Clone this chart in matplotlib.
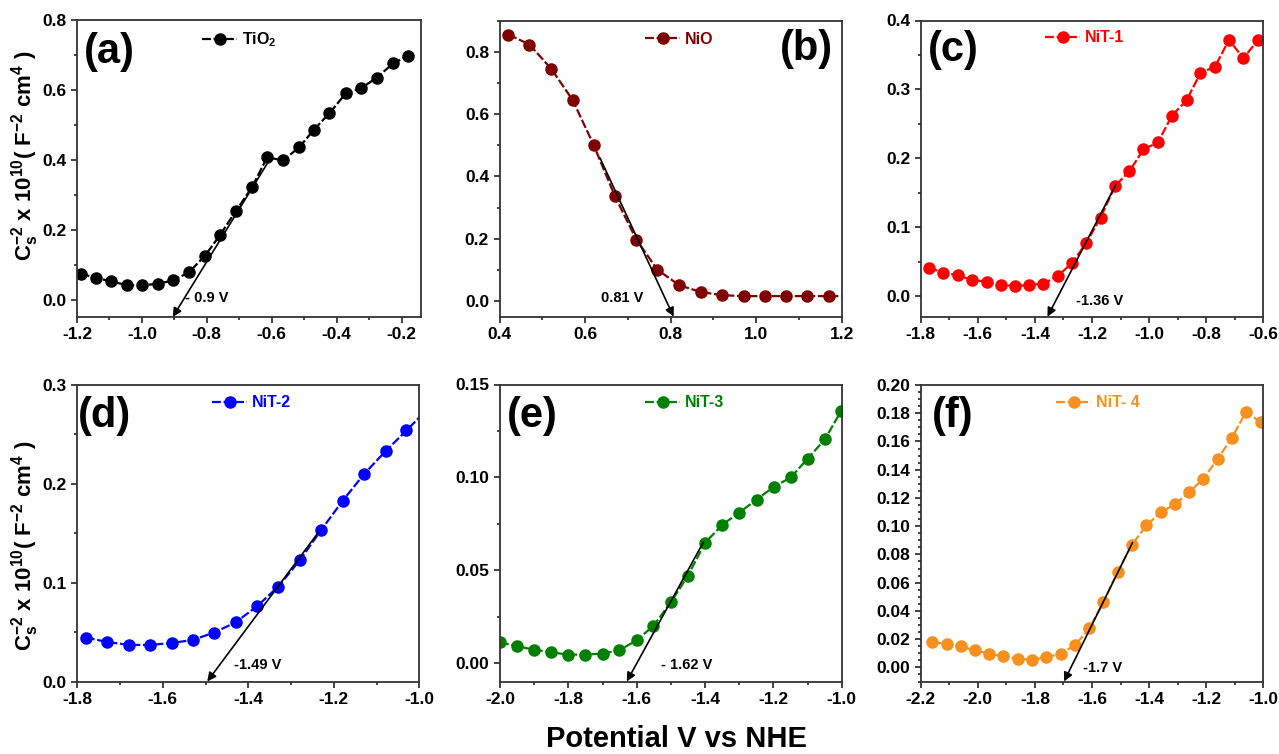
import matplotlib
matplotlib.use("Agg")
import matplotlib.pyplot as plt
from matplotlib.ticker import MultipleLocator, FormatStrFormatter
import numpy as np

plt.rcParams['font.family'] = ['Liberation Sans', 'DejaVu Sans']
plt.rcParams['font.weight'] = 'bold'
plt.rcParams['mathtext.fontset'] = 'custom'
plt.rcParams['mathtext.rm'] = 'Liberation Sans:bold'
plt.rcParams['mathtext.bf'] = 'Liberation Sans:bold'
plt.rcParams['mathtext.it'] = 'Liberation Sans:bold'
plt.rcParams['mathtext.default'] = 'bf'

# ---------------- data ----------------
x_tio2 = [-1.189, -1.142, -1.094, -1.047, -0.999, -0.950, -0.903, -0.855, -0.805, -0.759, -0.710,
          -0.661, -0.614, -0.565, -0.515, -0.470, -0.422, -0.372, -0.326, -0.276, -0.226, -0.179]
y_tio2 = [0.074, 0.062, 0.052, 0.041, 0.041, 0.045, 0.055, 0.078, 0.126, 0.185, 0.254,
          0.321, 0.407, 0.398, 0.436, 0.486, 0.533, 0.590, 0.604, 0.635, 0.676, 0.697]

x_nio = [0.421, 0.470, 0.521, 0.571, 0.620, 0.670, 0.720, 0.769, 0.820, 0.871, 0.920,
         0.971, 1.021, 1.070, 1.120, 1.171, 1.221]
y_nio = [0.855, 0.823, 0.745, 0.645, 0.501, 0.336, 0.197, 0.101, 0.051, 0.029, 0.019,
         0.016, 0.016, 0.016, 0.016, 0.016, 0.016]

x_nit1 = [-1.771, -1.721, -1.670, -1.620, -1.569, -1.520, -1.470, -1.419, -1.370, -1.320, -1.270,
          -1.220, -1.170, -1.119, -1.069, -1.020, -0.969, -0.920, -0.869, -0.820, -0.769, -0.720,
          -0.670, -0.620]
y_nit1 = [0.041, 0.034, 0.030, 0.023, 0.021, 0.016, 0.0145, 0.016, 0.018, 0.029, 0.048,
          0.077, 0.114, 0.160, 0.181, 0.213, 0.223, 0.262, 0.284, 0.324, 0.333, 0.372,
          0.345, 0.371]

x_nit2 = [-1.780, -1.730, -1.679, -1.630, -1.579, -1.530, -1.480, -1.429, -1.380, -1.330, -1.279,
          -1.230, -1.179, -1.129, -1.079, -1.030, -0.980]
y_nit2 = [0.0445, 0.040, 0.037, 0.037, 0.039, 0.042, 0.0495, 0.060, 0.076, 0.096, 0.123,
          0.153, 0.183, 0.210, 0.233, 0.254, 0.276]

x_nit3 = [-2.000, -1.951, -1.900, -1.851, -1.800, -1.751, -1.700, -1.651, -1.600, -1.551, -1.500,
          -1.451, -1.400, -1.349, -1.300, -1.249, -1.198, -1.149, -1.100, -1.049, -1.002]
y_nit3 = [0.0111, 0.0090, 0.0072, 0.0057, 0.0045, 0.0045, 0.0050, 0.0068, 0.0122, 0.0200, 0.0327,
          0.0467, 0.0647, 0.0745, 0.0810, 0.0880, 0.0950, 0.0999, 0.1100, 0.1205, 0.1356]

x_nit4 = [-2.159, -2.109, -2.060, -2.010, -1.960, -1.911, -1.860, -1.810, -1.760, -1.710, -1.660,
          -1.609, -1.560, -1.510, -1.460, -1.410, -1.360, -1.309, -1.260, -1.210, -1.160, -1.110,
          -1.060, -1.009]
y_nit4 = [0.0179, 0.0167, 0.0149, 0.0120, 0.0097, 0.0078, 0.0061, 0.0054, 0.0071, 0.0097, 0.0156,
          0.0278, 0.0462, 0.0679, 0.0868, 0.1005, 0.1097, 0.1156, 0.1241, 0.1335, 0.1476, 0.1627,
          0.1811, 0.1736]

series_labels = [r'TiO$_2$', 'NiO', 'NiT-1', 'NiT-2', 'NiT-3', 'NiT- 4']
panel_tags = ['(a)', '(b)', '(c)', '(d)', '(e)', '(f)']
colors = ['#000000', '#7F0000', '#FF0000', '#0000FF', '#008000', '#F7901E']

# tangent lines: start (x, y) and intercept x, with label text
tan_start_x = [-0.600, 0.635, -1.116, -1.236, -1.405, -1.458]
tan_start_y = [0.410, 0.459, 0.162, 0.151, 0.065, 0.0884]
tan_end_x = [-0.905, 0.807, -1.356, -1.496, -1.629, -1.698]
fb_labels = ['- 0.9 V', '0.81 V', '-1.36 V', '-1.49 V', '- 1.62 V', '-1.7 V']
fb_label_x = [-0.80, 0.686, -1.174, -1.379, -1.454, -1.564]
fb_label_y = [0.005, 0.010, -0.007, 0.017, -0.001, -0.0005]

xlims = [(-1.2, -0.14), (0.4, 1.2), (-1.8, -0.6), (-1.8, -1.0), (-2.0, -1.0), (-2.2, -1.0)]
ylims = [(-0.05, 0.8), (-0.05, 0.9), (-0.03, 0.4), (0.0, 0.3), (-0.01, 0.15), (-0.01, 0.20)]
xmajor = [0.2, 0.2, 0.2, 0.2, 0.2, 0.2]
ymajor = [0.2, 0.2, 0.1, 0.1, 0.05, 0.02]
yminor = [0.1, 0.1, 0.05, 0.05, 0.025, 0.005]
yfmt = ['%.1f', '%.1f', '%.1f', '%.1f', '%.2f', '%.2f']
yticks_first = [0.0, 0.0, 0.0, 0.0, 0.0, 0.0]
yticks_last = [0.8, 0.8, 0.4, 0.3, 0.15, 0.20]

xs = [x_tio2, x_nio, x_nit1, x_nit2, x_nit3, x_nit4]
ys = [y_tio2, y_nio, y_nit1, y_nit2, y_nit3, y_nit4]

# ---------------- layout (pixels) ----------------
W, H = 1279, 754
fig = plt.figure(figsize=(W / 100, H / 100), dpi=100)
boxes = [(77, 20, 421, 317), (499.5, 20.5, 841.7, 316.7), (920.7, 20.5, 1263.3, 316.7),
         (77.3, 385, 419.3, 681.5), (500, 384.5, 841.7, 681.5), (920.7, 385, 1263.3, 681.5)]
legend_pos = [(202, 40), (645, 39), (1045, 38), (212, 403), (645, 403), (1056, 403)]
tag_pos = [(109, 52), (806, 49), (953, 50), (105, 416), (532, 416), (953, 416)]

for i in range(6):
    l, t, r, b = boxes[i]
    ax = fig.add_axes([l / W, 1 - b / H, (r - l) / W, (b - t) / H])
    ax.plot(xs[i], ys[i], color=colors[i], marker='o', markersize=8,
            linestyle=(0, (4, 1.2)), linewidth=1.6, label=series_labels[i])
    ax.set_xlim(*xlims[i])
    ax.set_ylim(*ylims[i])
    ax.xaxis.set_major_locator(MultipleLocator(xmajor[i]))
    ax.xaxis.set_minor_locator(MultipleLocator(0.1))
    ax.set_yticks(np.round(np.arange(yticks_first[i], yticks_last[i] + 1e-9, ymajor[i]), 4))
    ax.yaxis.set_minor_locator(MultipleLocator(yminor[i]))
    ax.yaxis.set_major_formatter(FormatStrFormatter(yfmt[i]))
    ax.xaxis.set_major_formatter(FormatStrFormatter('%.1f'))
    ax.tick_params(which='both', direction='out', top=False, right=False,
                   width=1.2, colors='#222222', labelcolor='black')
    ax.tick_params(which='major', length=4.5, labelsize=12.5, pad=3)
    ax.tick_params(which='minor', length=2.5)
    for lab in ax.get_xticklabels() + ax.get_yticklabels():
        lab.set_fontweight('bold')
    for sp in ax.spines.values():
        sp.set_linewidth(1.3)
        sp.set_color('#333333')

    # tangent arrow
    ax.annotate('', xy=(tan_end_x[i], ylims[i][0]), xytext=(tan_start_x[i], tan_start_y[i]),
                arrowprops=dict(arrowstyle='-|>', color='black', lw=1.2, mutation_scale=13,
                                shrinkA=0, shrinkB=0), annotation_clip=False)
    ax.text(fb_label_x[i], fb_label_y[i], fb_labels[i], fontsize=10.5, fontweight='bold',
            ha='center', va='center', color='black')

    # legend
    lx, ly = legend_pos[i]
    ax.legend(loc='center left', bbox_to_anchor=(lx / W, 1 - ly / H),
              bbox_transform=fig.transFigure, frameon=False,
              handlelength=2.2, handletextpad=0.3, borderpad=0, borderaxespad=0,
              labelcolor='linecolor' if i > 0 else 'black',
              prop={'weight': 'bold', 'size': 11.5})
    # panel tag
    tx, ty = tag_pos[i]
    fig.text(tx / W, 1 - ty / H, panel_tags[i], fontsize=30, fontweight='bold',
             ha='center', va='center')

ylab = r'C$_\mathbf{s}^\mathbf{-2}$ x 10$^\mathbf{10}$( F$^\mathbf{-2}$ cm$^\mathbf{4}$ )'
fig.text(25 / W, 1 - 156 / H, ylab, rotation=90, fontsize=16, fontweight='bold',
         ha='center', va='center')
fig.text(25 / W, 1 - 546 / H, ylab, rotation=90, fontsize=16, fontweight='bold',
         ha='center', va='center')
fig.text(677 / W, 1 - 739 / H, 'Potential V vs NHE', fontsize=21, fontweight='bold',
         ha='center', va='center')

fig.savefig('out.png', dpi=100)
